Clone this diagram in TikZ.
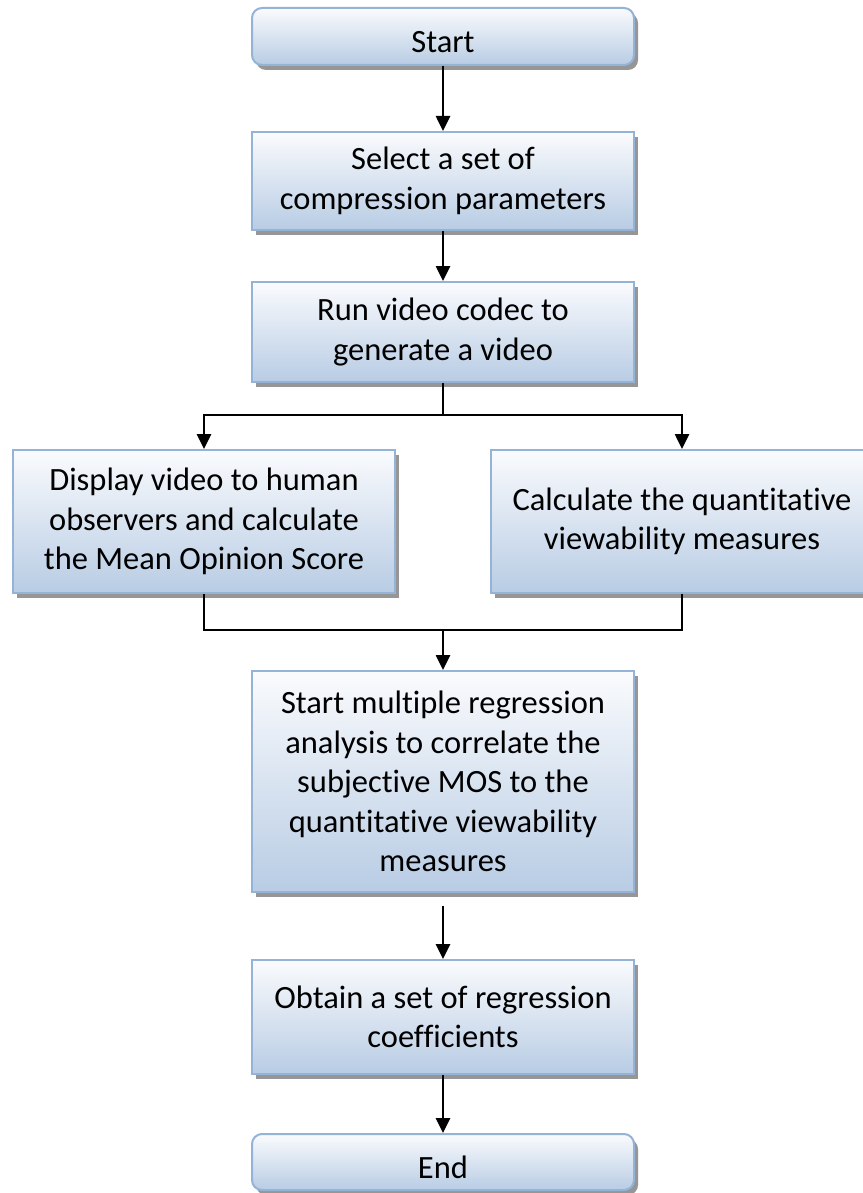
\documentclass[tikz,border=0pt]{standalone}
\usepackage{fontspec}
\setmainfont[Ligatures=NoCommon]{Carlito}
\usetikzlibrary{arrows.meta,shadows,calc}
\definecolor{boxline}{RGB}{149,179,215}
\definecolor{boxtop}{RGB}{250,251,253}
\definecolor{boxbot}{RGB}{184,204,228}
\definecolor{shadowgray}{RGB}{150,150,150}
\tikzset{
  stepbox/.style={draw=boxline, line width=2pt, top color=boxtop, bottom color=boxbot,
    minimum width=382pt, inner sep=0pt, align=center,
    font=\fontsize{32.5}{39.5}\selectfont,
    general shadow={fill=shadowgray, shadow xshift=4pt, shadow yshift=-5pt}},
  termbox/.style={stepbox, rounded corners=10pt, text height=33pt, text depth=0pt},
  link/.style={line width=2.6pt, draw=black},
  arrowlink/.style={link, -{Triangle[width=14pt,length=15pt]}}
}
\begin{document}
\begin{tikzpicture}[x=1pt,y=-1pt]
  \fill[white] (0,0) rectangle (862,1193);
  \useasboundingbox (0,0) rectangle (862,1193);

  % process boxes
  \node[termbox, minimum height=57pt]  (start)  at (443,36.5)  {Start};
  \node[stepbox, minimum height=98pt]  (select) at (443,181)   {Select a set of\\compression parameters};
  \node[stepbox, minimum height=100pt] (run)    at (443,332)   {Run video codec to\\generate a video};
  \node[stepbox, minimum height=143pt] (disp)   at (204,521.5) {Display video to human\\observers and calculate\\the Mean Opinion Score};
  \node[stepbox, minimum height=143pt] (calc)   at (682,521.5) {Calculate the quantitative\\viewability measures};
  \node[stepbox, minimum height=221pt] (mr)     at (443,781.5) {Start multiple regression\\analysis to correlate the\\subjective MOS to the\\quantitative viewability\\measures};
  \node[stepbox, minimum height=114pt] (obtain) at (443,1017)  {Obtain a set of regression\\coefficients};
  \node[termbox, minimum height=56pt]  (end)    at (443,1162)  {End};

  % branch and merge points
  \coordinate (split) at ($(run.south)+(0,32)$);
  \coordinate (merge) at ($(mr.north)+(0,-40)$);

  % connectors
  \draw[arrowlink] (start) -- (select);
  \draw[arrowlink] (select) -- (run);
  \draw[link] (run.south) -- (split);
  \draw[arrowlink] (split) -| (disp.north);
  \draw[arrowlink] (split) -| (calc.north);
  \draw[link] (disp.south) |- (merge);
  \draw[link] (calc.south) |- (merge);
  \draw[arrowlink] (merge) -- (mr.north);
  \draw[arrowlink, shorten <=13pt] (mr) -- (obtain);
  \draw[arrowlink] (obtain) -- (end);
\end{tikzpicture}
\end{document}
